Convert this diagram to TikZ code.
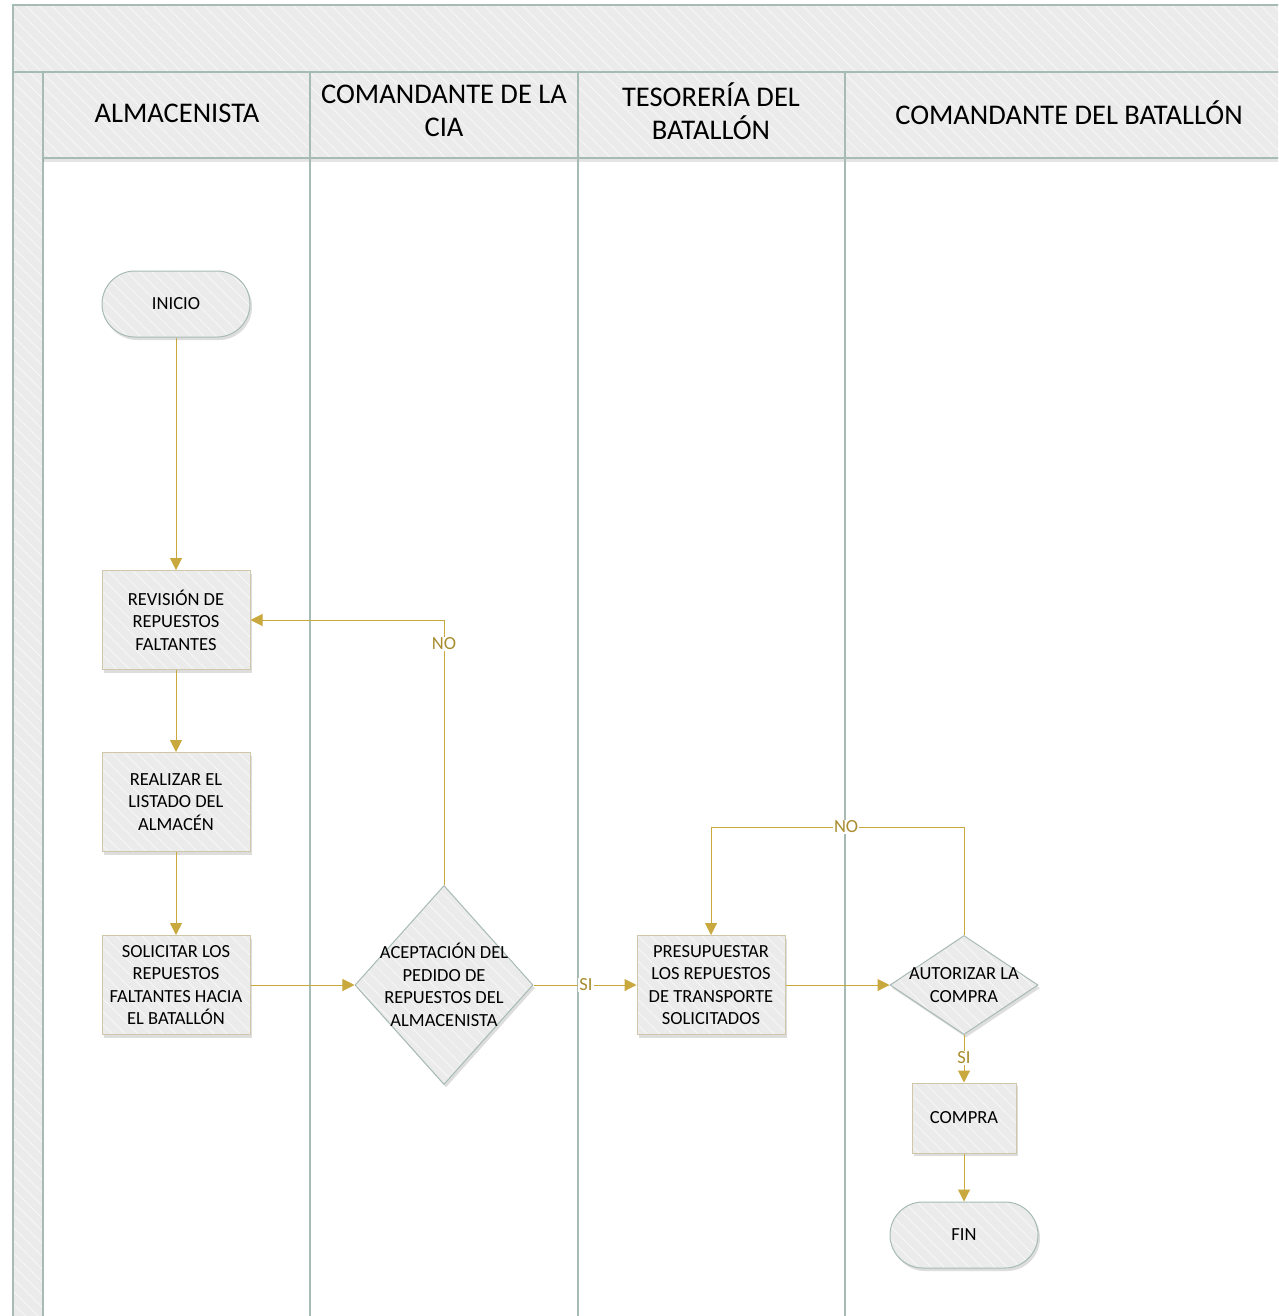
\documentclass[tikz,border=0pt]{standalone}
\usepackage{fontspec}
\setmainfont{Carlito}
\usetikzlibrary{arrows.meta,shapes.geometric,shadows,patterns.meta}

\definecolor{lanefill}{HTML}{EBEBEB}
\definecolor{laneline}{HTML}{A7BBB5}
\definecolor{boxline}{HTML}{CFC7A8}
\definecolor{flow}{HTML}{C9A93E}
\definecolor{flowtext}{HTML}{A88C2E}

\tikzset{
  hatchfill/.style={preaction={fill=lanefill},
    preaction={pattern={Lines[angle=-45,distance=9pt,line width=0.7pt]},pattern color=white!70!lanefill}},
  panel/.style={hatchfill, draw=laneline, line width=1.5pt},
  softshadow/.style={drop shadow={shadow xshift=2pt, shadow yshift=-3pt, opacity=0.22, fill=black!60}},
  nodebase/.style={softshadow, hatchfill, text=black, align=center,
    font=\fontsize{18.5}{22.5}\selectfont, inner sep=2pt},
  procbox/.style={nodebase, draw=boxline, line width=1pt, minimum width=148, minimum height=99},
  terminal/.style={nodebase, draw=laneline, line width=1pt, rounded corners=33pt, minimum width=148, minimum height=66},
  decision/.style={nodebase, draw=laneline, line width=1pt, diamond, inner sep=0pt},
  dtext/.style={text=black, align=center, font=\fontsize{18.5}{22.5}\selectfont, inner sep=0pt},
  lanehead/.style={text=black, align=center, font=\fontsize{28.5}{33}\selectfont},
  flowline/.style={draw=flow, line width=1pt, -{Triangle[length=12pt,width=12pt]}},
  flowlabel/.style={fill=white, text=flowtext, inner sep=1pt, font=\fontsize{18.5}{22.5}\selectfont},
}

\begin{document}
\begin{tikzpicture}[x=1pt, y=-1pt]
\useasboundingbox (0,0) rectangle (1278,1316);
\clip (0,0) rectangle (1278,1316);
\fill[white] (0,0) rectangle (1278,1316);

% pool: title bar, side strip and lane headers
\path[panel] (13,5) rectangle (1300,72);
\path[panel] (13,72) rectangle (43,1340);
\fill[black, opacity=0.10] (43,158) rectangle (1300,162);
\path[panel] (43,72) rectangle (1300,158);
\foreach \x in {310,578,845}
  \draw[laneline, line width=1.5pt] (\x,72) -- (\x,1340);

\node[lanehead] (h1) at (177,113) {ALMACENISTA};
\node[lanehead] (h2) at (444,111) {COMANDANTE DE LA\\CIA};
\node[lanehead] (h3) at (711,111) {TESORERÍA DEL\\BATALLÓN};
\node[lanehead] (h4) at (1069,113) {COMANDANTE DEL BATALLÓN};

% flow nodes
\node[terminal] (inicio) at (176,304) {INICIO};
\node[procbox] (revision) at (176,620) {REVISIÓN DE\\REPUESTOS\\FALTANTES};
\node[procbox] (realizar) at (176,802) {REALIZAR EL\\LISTADO DEL\\ALMACÉN};
\node[procbox] (solicitar) at (176,985) {SOLICITAR LOS\\REPUESTOS\\FALTANTES HACIA\\EL BATALLÓN};
\node[decision, minimum width=178, minimum height=199] (acep) at (444,985) {};
\node[dtext] (aceptxt) at (acep) {ACEPTACIÓN DEL\\PEDIDO DE\\REPUESTOS DEL\\ALMACENISTA};
\node[procbox] (presup) at (711,985) {PRESUPUESTAR\\LOS REPUESTOS\\DE TRANSPORTE\\SOLICITADOS};
\node[decision, minimum width=148, minimum height=99] (autor) at (964,985) {};
\node[dtext] (autortxt) at (autor) {AUTORIZAR LA\\COMPRA};
\node[procbox, minimum width=104, minimum height=70] (compra) at (964,1118) {COMPRA};
\node[terminal] (fin) at (964,1235) {FIN};

% connectors
\draw[flowline] (inicio) -- (revision);
\draw[flowline] (revision) -- (realizar);
\draw[flowline] (realizar) -- (solicitar);
\draw[flowline] (solicitar) -- (acep);
\draw[flowline] (acep.north) |- node[flowlabel, pos=0.455] {NO} (revision.east);
\draw[flowline] (acep.east) -- node[flowlabel, pos=0.51] {SI} (presup.west);
\draw[flowline] (presup) -- (autor);
\draw[flowline] (autor.north) -- ++(0,-108) -| node[flowlabel, pos=0.233] {NO} (presup.north);
\draw[flowline] (autor.south) -- node[flowlabel, pos=0.48] {SI} (compra.north);
\draw[flowline] (compra) -- (fin);
\end{tikzpicture}
\end{document}
